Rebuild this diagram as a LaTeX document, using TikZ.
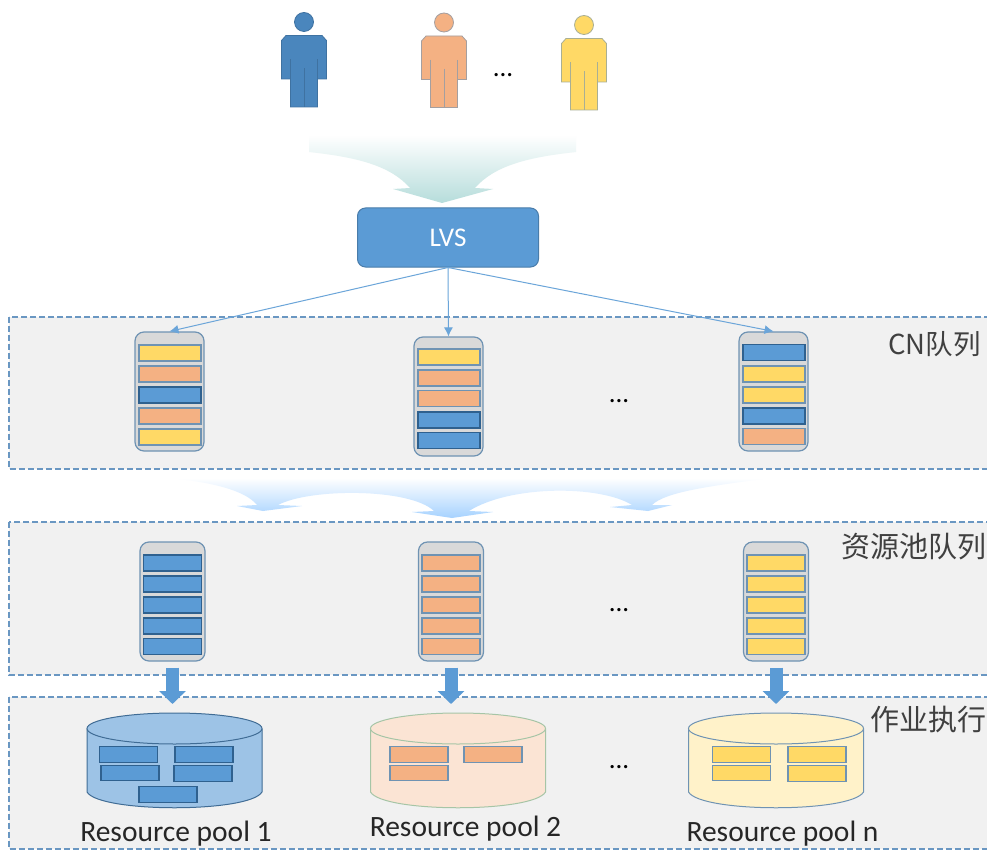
\documentclass[tikz,border=0pt]{standalone}
\usepackage{fontspec}
\setmainfont{Carlito}
\newfontfamily\cjkfont{Noto Sans CJK SC}
\usetikzlibrary{arrows.meta}
\definecolor{cBlue}{HTML}{5B9BD5}
\definecolor{cOrange}{HTML}{F4B183}
\definecolor{cYellow}{HTML}{FFD966}
\definecolor{cPerson}{HTML}{4A86BD}
\definecolor{cDash}{HTML}{6A97C2}
\definecolor{cPanel}{HTML}{F1F1F1}
\definecolor{cEdge}{HTML}{6F93B3}
\definecolor{edgecBlue}{HTML}{2F618F}
\definecolor{edgecOrange}{HTML}{6F93B3}
\definecolor{edgecYellow}{HTML}{6F93B3}
\definecolor{cFunnel}{HTML}{B6DDDB}
\definecolor{cFanMid}{HTML}{EEF6FF}
\definecolor{cFan}{HTML}{A6D2FF}
\tikzset{
  x=1pt,y=-1pt,
  panel/.style={draw=cDash,fill=cPanel,line width=1.1pt,dash pattern=on 6pt off 3pt},
  queue/.style={draw=cEdge,fill=black!15,line width=1.2pt,rounded corners=9pt,minimum width=69pt,minimum height=119pt,inner sep=0pt},
  queueb/.style={queue,minimum width=65pt},
  qbar/.style={line width=1.1pt,minimum width=62pt,minimum height=16pt,inner sep=0pt},
  qbarb/.style={qbar,minimum width=58pt},
  pbar/.style={qbar,minimum width=58pt,minimum height=15.5pt},
  dots/.style={font=\fontsize{27}{27}\selectfont,inner sep=0pt},
  poollabel/.style={font=\fontsize{29.5}{30}\selectfont,inner sep=0pt,text=black!85},
  zhlabel/.style={font=\fontsize{29}{30}\selectfont\cjkfont,inner sep=0pt,text=black!75,anchor=east},
  thin arrow/.style={draw=cBlue!90!white,line width=1pt,-{Latex[length=9pt,width=9pt]}},
  fat arrow/.style={draw=cBlue,line width=13pt,shorten <=6pt,-{Triangle[length=13pt,width=26pt]}},
  person line/.style={line width=0.8pt},
}
% #1 cx, #2 top of the body, #3 fill, #4 edge
\newcommand{\personfig}[4]{%
  \fill[#3,draw=#4,line width=0.8pt] (#1,#2-13.5) circle[radius=9.5pt];
  \fill[#3,draw=#4,line width=0.8pt]
    (#1-18,#2) -- (#1+18,#2) -- (#1+22.5,#2+5) -- (#1+22.5,#2+43.5) -- (#1+13.5,#2+43.5)
    -- (#1+13.5,#2+71.5) -- (#1-13.5,#2+71.5) -- (#1-13.5,#2+43.5) -- (#1-22.5,#2+43.5)
    -- (#1-22.5,#2+5) -- cycle;
  \draw[#4,person line] (#1-13.5,#2+24) -- (#1-13.5,#2+43.5)
    (#1+13.5,#2+24) -- (#1+13.5,#2+43.5) (#1,#2+33) -- (#1,#2+71.5);
}
% #1 cx, #2 fill, #3 edge
\newcommand{\cylfig}[3]{%
  \fill[#2,draw=#3,line width=1pt] (#1-87.5,729) -- (#1-87.5,792)
    .. controls (#1-75,813) and (#1+75,813) .. (#1+87.5,792) -- (#1+87.5,729) -- cycle;
  \draw[fill=#2,draw=#3,line width=1pt] (#1,728.5) ellipse[x radius=87.5pt,y radius=15.5pt];
}
\begin{document}
\begin{tikzpicture}
\useasboundingbox (0,0) rectangle (987,850);
\clip (0,0) rectangle (987,850);
\fill[white] (0,0) rectangle (987,850);

% panels
\path[panel] (9,317) rectangle (1000,469);
\path[panel] (9,522) rectangle (1000,675);
\path[panel] (9,697) rectangle (1000,849);

% people
\personfig{304}{35.5}{cPerson}{cPerson!85!black}
\personfig{444}{36}{cOrange}{cEdge!60!cOrange}
\personfig{584}{38.5}{cYellow}{cEdge!60!cYellow}
\node[dots] (dtop) at (503,75) {...};

% funnel arrow
\shade[top color=white,bottom color=cFunnel,draw=none]
  (309,135) -- (576,135) -- (576,152)
  .. controls (530,157) and (495,165) .. (475,188)
  -- (493,189) -- (442,203) -- (393,189) -- (410,188)
  .. controls (390,165) and (355,157) .. (309,152) -- cycle;

% LVS
\node[draw=cBlue!80!black,fill=cBlue,line width=1pt,rounded corners=8pt,minimum width=181pt,minimum height=59pt,
  text=white,font=\fontsize{27}{27}\selectfont,inner sep=0pt] (lvs) at (448,237.5) {\raisebox{-1.5pt}{LVS}};

% CN queues
\node[queue] (qa) at (169.5,391.5) {};
\node[queue] (qb) at (448.5,396.5) {};
\node[queue] (qc) at (773.5,391.5) {};
\foreach \y/\c [count=\i] in {353/cYellow,374/cOrange,395/cBlue,416/cOrange,437/cYellow}
  \node[qbar,fill=\c,draw=edge\c] (qa\i) at (170,\y) {};
\foreach \y/\c [count=\i] in {357/cYellow,378/cOrange,398.5/cOrange,420/cBlue,440.5/cBlue}
  \node[qbar,fill=\c,draw=edge\c] (qb\i) at (449,\y) {};
\foreach \y/\c [count=\i] in {352.5/cBlue,374/cYellow,395/cYellow,416/cBlue,436.5/cOrange}
  \node[qbar,fill=\c,draw=edge\c] (qc\i) at (774,\y) {};
\draw[thin arrow] (lvs.south) -- (qa.north);
\draw[thin arrow] (lvs.south) -- (qb.north);
\draw[thin arrow] (lvs.south) -- (qc.north);
\node[dots] (dcn) at (619,401) {...};

% fan arrows
\shade[top color=white,middle color=cFanMid,bottom color=cFan,draw=none]
  (170,478) -- (770,478)
  .. controls (710,486) and (665,492) .. (652,505)
  -- (672,505) -- (648,511) -- (610,507) -- (632,505)
  .. controls (600,485) and (510,485) .. (469,511)
  -- (493,512) -- (452,518) -- (412,512) -- (434,511)
  .. controls (410,488) and (310,488) .. (278,505)
  -- (302,506) -- (263,511) -- (237,506) -- (257,505)
  .. controls (245,490) and (210,482) .. (170,478) -- cycle;

% resource pool queues
\node[queueb] (qd) at (172.5,601.5) {};
\node[queueb] (qe) at (451,601.5) {};
\node[queueb] (qf) at (776,601.5) {};
\foreach \y [count=\i] in {563,584,605,626,646.5} {
  \node[qbarb,fill=cBlue,draw=edgecBlue] (qd\i) at (172.5,\y) {};
  \node[qbarb,fill=cOrange,draw=edgecOrange] (qe\i) at (451,\y) {};
  \node[qbarb,fill=cYellow,draw=edgecYellow] (qf\i) at (776,\y) {};
}
\node[dots] (dres) at (619,610) {...};

% pools
\cylfig{174.5}{cBlue!60!white}{cBlue!70!black}
\cylfig{458}{cOrange!35!white}{green!35!black!35!white}
\cylfig{776}{cYellow!35!white}{cEdge}
\coordinate (ta) at (172.5,704);
\coordinate (tb) at (451,704);
\coordinate (tc) at (776,704);
\draw[fat arrow] (qd.south) -- (ta);
\draw[fat arrow] (qe.south) -- (tb);
\draw[fat arrow] (qf.south) -- (tc);
\foreach \x/\y [count=\i] in {128.5/754.5,204/754.5,130/773,203/773.5,168/794.5}
  \node[pbar,fill=cBlue,draw=edgecBlue] (pa\i) at (\x,\y) {};
\foreach \x/\y [count=\i] in {419/754.5,493/754.5,419/773}
  \node[pbar,fill=cOrange,draw=edgecOrange] (pb\i) at (\x,\y) {};
\foreach \x/\y [count=\i] in {741.5/754.5,817/754.5,741.5/773,817/773.5}
  \node[pbar,fill=cYellow,draw=edgecYellow] (pc\i) at (\x,\y) {};
\node[dots] (dpool) at (619,767) {...};

% labels
\node[poollabel] (la) at (176,834) {Resource pool 1};
\node[poollabel] (lb) at (465.5,829) {Resource pool 2};
\node[poollabel] (lc) at (782.5,834) {Resource pool n};
\node[zhlabel,font=\fontsize{27.5}{30}\selectfont\cjkfont] (za) at (981,344) {CN队列};
\node[zhlabel] (zb) at (987,547) {资源池队列};
\node[zhlabel] (zc) at (987,720) {作业执行};
\end{tikzpicture}
\end{document}
